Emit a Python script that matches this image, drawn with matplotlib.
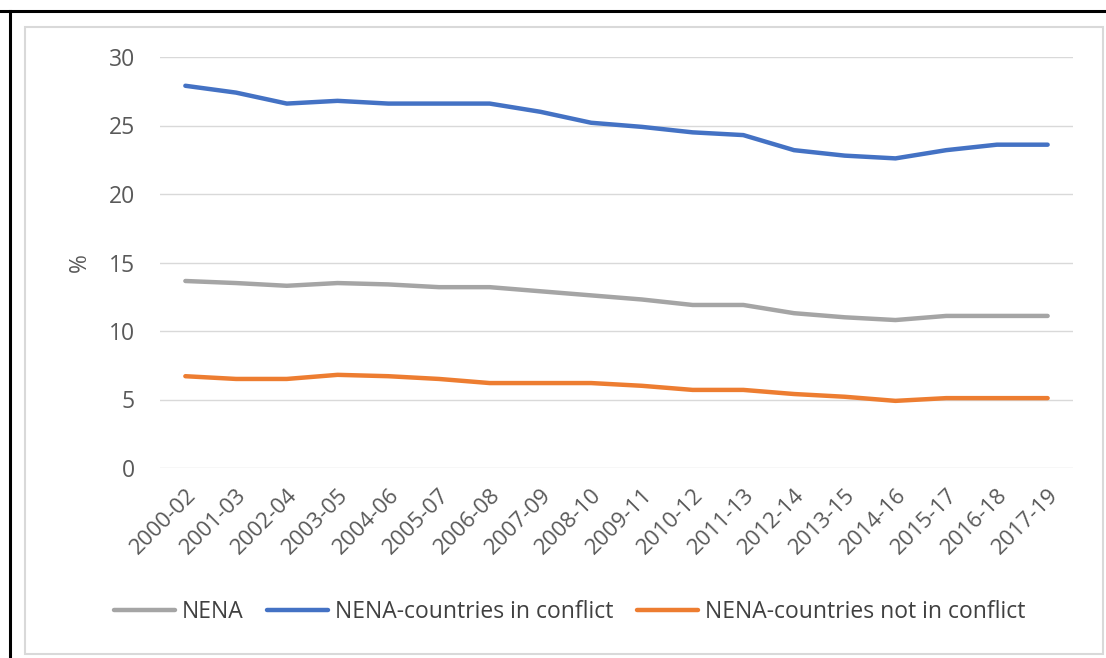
import matplotlib
matplotlib.use("Agg")
import matplotlib.pyplot as plt
from matplotlib.lines import Line2D
from matplotlib.patches import Rectangle

## Daten
periods = ["2000-02", "2001-03", "2002-04", "2003-05", "2004-06", "2005-07",
           "2006-08", "2007-09", "2008-10", "2009-11", "2010-12", "2011-13",
           "2012-14", "2013-15", "2014-16", "2015-17", "2016-18", "2017-19"]
nena = [13.65, 13.5, 13.3, 13.5, 13.4, 13.2, 13.2, 12.9, 12.6, 12.3,
        11.9, 11.9, 11.3, 11.0, 10.8, 11.1, 11.1, 11.1]
conflict = [27.9, 27.4, 26.6, 26.8, 26.6, 26.6, 26.6, 26.0, 25.2, 24.9,
            24.5, 24.3, 23.2, 22.8, 22.6, 23.2, 23.6, 23.6]
no_conflict = [6.7, 6.5, 6.5, 6.8, 6.7, 6.5, 6.2, 6.2, 6.2, 6.0,
               5.7, 5.7, 5.4, 5.2, 4.9, 5.1, 5.1, 5.1]
yticks = [0, 5, 10, 15, 20, 25, 30]

plt.rcParams['font.family'] = ['Open Sans', 'DejaVu Sans']

fig = plt.figure(figsize=(11.06, 6.58), dpi=100)
ax = fig.add_axes([160/1106, 1 - 468/658, (1073 - 160)/1106, (468 - 57)/658])

x = range(len(periods))
style = dict(lw=3.2, solid_capstyle='round', solid_joinstyle='round')
ax.plot(x, nena, color='#A5A5A5', label='NENA', **style)
ax.plot(x, conflict, color='#4472C4', label='NENA-countries in conflict', **style)
ax.plot(x, no_conflict, color='#ED7D31', label='NENA-countries not in conflict', **style)

ax.set_xlim(-0.5, len(periods) - 0.5)
ax.set_ylim(0, 30)
ax.set_yticks(yticks)
ax.set_xticks(list(x))
ax.set_xticklabels(periods, rotation=45, ha='right', rotation_mode='anchor')
ax.grid(True, axis='y', color='#d9d9d9', lw=1)
ax.set_axisbelow(True)
for s in ax.spines.values():
    s.set_visible(False)
ax.tick_params(axis='y', length=0, pad=18, labelsize=16.5, colors='#595959')
ax.tick_params(axis='x', length=0, pad=12, labelsize=16, colors='#595959')
ax.set_ylabel('%', fontsize=16.5, color='#595959', labelpad=12)

ax.legend(loc='center', bbox_to_anchor=(0.515, 0.07), bbox_transform=fig.transFigure,
          ncol=3, frameon=False, fontsize=16.5, handlelength=2.65, handletextpad=0.3,
          columnspacing=1.05, labelcolor='#404040')

# Rahmen
fig.add_artist(Rectangle((25/1106, 1 - 654/658), (1103 - 25)/1106, (654 - 27)/658,
                         transform=fig.transFigure, fill=False, edgecolor='#d9d9d9', lw=1.5))
fig.add_artist(Line2D([0, 1], [1 - 10.5/658, 1 - 10.5/658], transform=fig.transFigure,
                      color='black', lw=2.2))
fig.add_artist(Line2D([10/1106, 10/1106], [0, 1 - 10.5/658], transform=fig.transFigure,
                      color='black', lw=2.2))

fig.savefig('out.png', dpi=100)
